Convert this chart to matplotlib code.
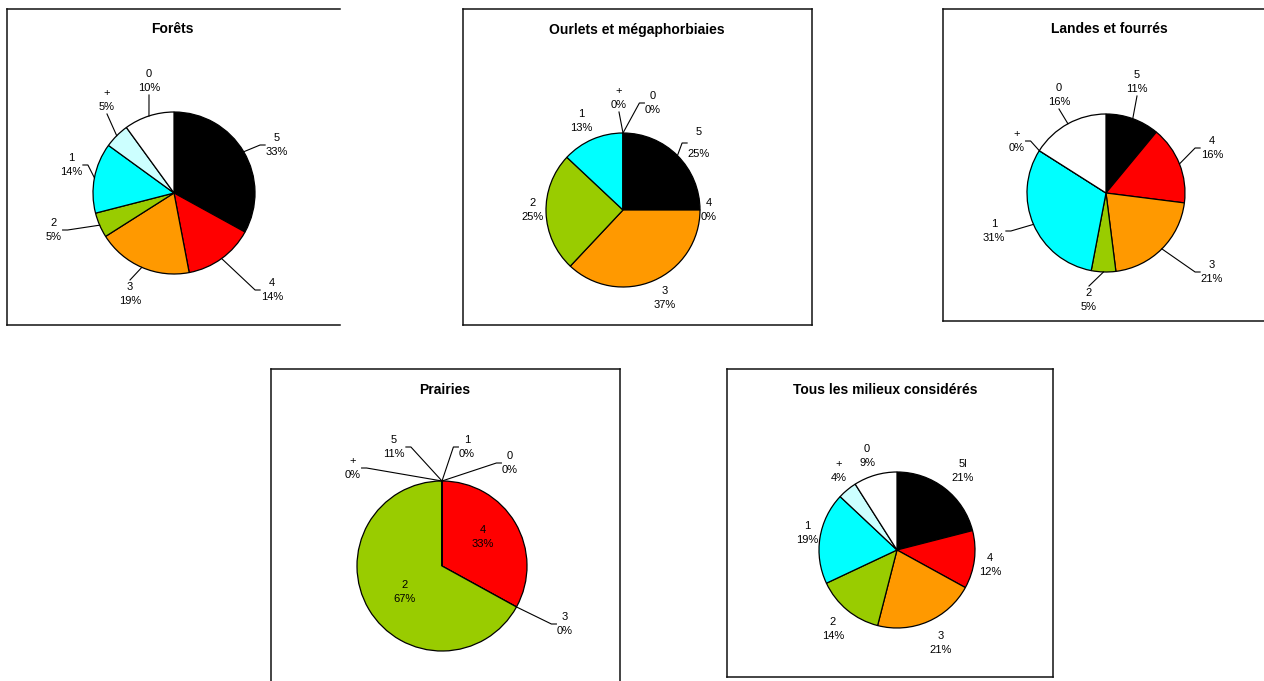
"""Five pie charts: share of each class per habitat type."""

import matplotlib

matplotlib.use("Agg")
import matplotlib.pyplot as plt
import numpy as np

plt.rcParams["font.family"] = ["Liberation Sans", "DejaVu Sans"]

# ---- data -------------------------------------------------------------
categories = ["5", "4", "3", "2", "1", "+", "0"]
class_colors = ["#000000", "#FF0000", "#FF9900", "#99CC00", "#00FFFF", "#CCFFFF", "#FFFFFF"]

titles = ["Forêts", "Ourlets et mégaphorbiaies", "Landes et fourrés", "Prairies",
          "Tous les milieux considérés"]

forets = [33, 14, 19, 5, 14, 5, 10]
ourlets = [25, 0, 37, 25, 13, 0, 0]
landes = [11, 16, 21, 5, 31, 0, 16]
prairies = [0, 33, 0, 67, 0, 0, 0]
tous = [21, 12, 21, 14, 19, 4, 9]

# printed percentages (Prairies shows 11% on a slice drawn with no width)
forets_pct = ["33%", "14%", "19%", "5%", "14%", "5%", "10%"]
ourlets_pct = ["25%", "0%", "37%", "25%", "13%", "0%", "0%"]
landes_pct = ["11%", "16%", "21%", "5%", "31%", "0%", "16%"]
prairies_pct = ["11%", "33%", "0%", "67%", "0%", "0%", "0%"]
tous_pct = ["21%", "12%", "21%", "14%", "19%", "4%", "9%"]
tous_categories = ["5l", "4", "3", "2", "1", "+", "0"]

# ---- layout (pixels, y down) -----------------------------------------
W, H = 1264, 681
panels = [
    dict(values=forets, pct=forets_pct, cats=categories,
         frame=(7, 9, 340, 325), sides="tlb", title_xy=(172, 29),
         center=(174, 193), radius=81,
         offsets=[(103, -48), (98, 97), (-44, 101), (-120, 37), (-103, -28), (-67, -93), (-25, -112)],
         leader=[1, 1, 1, 1, 1, 1, 1]),
    dict(values=ourlets, pct=ourlets_pct, cats=categories,
         frame=(463, 9, 812, 325), sides="tlbr", title_xy=(637, 30),
         center=(623, 210), radius=77,
         offsets=[(76, -67), (86, 0), (42, 88), (-90, 0), (-42, -89), (-4, -112), (30, -107)],
         leader=[1, 0, 0, 0, 0, 1, 1], spacing={0: 2.6}),
    dict(values=landes, pct=landes_pct, cats=categories,
         frame=(943, 9, 1270, 321), sides="tlb", title_xy=(1109, 29),
         center=(1106, 193), radius=79,
         offsets=[(31, -111), (106, -45), (106, 79), (-17, 107), (-112, 38), (-89, -52), (-47, -98)],
         leader=[1, 1, 1, 1, 1, 1, 1]),
    dict(values=prairies, pct=prairies_pct, cats=categories,
         frame=(271, 369, 620, 690), sides="tlr", title_xy=(445, 390),
         center=(442, 566), radius=85,
         offsets=[(-48, -119), (41, -29), (123, 58), (-37, 26), (25, -119), (-89, -98), (68, -103)],
         leader=[1, 0, 1, 0, 1, 1, 1]),
    dict(values=tous, pct=tous_pct, cats=tous_categories,
         frame=(727, 369, 1053, 677), sides="tlbr", title_xy=(885, 390),
         center=(897, 550), radius=78,
         offsets=[(66, -79), (93, 15), (44, 93), (-64, 79), (-90, -17), (-58, -79), (-30, -94)],
         leader=[0, 0, 0, 0, 0, 0, 0]),
]

fig = plt.figure(figsize=(W / 100, H / 100), dpi=100)
ax = fig.add_axes([0, 0, 1, 1])


def fy(y):
    return H - y


for title, p in zip(titles, panels):
    x0, y0, x1, y1 = p["frame"]
    sides = {"t": ([x0, x1], [y0, y0]), "b": ([x0, x1], [y1, y1]),
             "l": ([x0, x0], [y0, y1]), "r": ([x1, x1], [y0, y1])}
    for s in p["sides"]:
        xs, ys = sides[s]
        ax.plot(xs, [fy(v) for v in ys], color="#111111", linewidth=1.1,
                solid_capstyle="projecting")

    ax.text(p["title_xy"][0], fy(p["title_xy"][1]), title, ha="center", va="center",
            fontsize=10, fontweight="bold")

    cx, cy = p["center"]
    r = p["radius"]
    vals = np.array(p["values"], dtype=float)
    ax.pie(vals, colors=class_colors, startangle=90, counterclock=False,
           center=(cx, fy(cy)), radius=r,
           wedgeprops=dict(edgecolor="black", linewidth=0.9))

    total = vals.sum()
    before = np.concatenate([[0], np.cumsum(vals)[:-1]])
    mid = np.radians(90 - 360 * (before + vals / 2) / total)
    spacing = p.get("spacing", {})
    for i, cat in enumerate(p["cats"]):
        dx, dy = p["offsets"][i]
        lx, ly = cx + dx, cy + dy
        ax.text(lx, fy(ly), f"{cat}\n{p['pct'][i]}", ha="center", va="center",
                fontsize=8, linespacing=spacing.get(i, 1.45))
        if not p["leader"][i]:
            continue
        ex, ey = cx + r * np.cos(mid[i]), cy - r * np.sin(mid[i])
        hw = 3.3 * len(p["pct"][i]) + 2
        hh = 14
        vx, vy = ex - lx, ey - ly
        if abs(vx) / hw > abs(vy) / hh:
            s = np.sign(vx)
            xs = [ex, lx + s * (hw + 5), lx + s * hw]
            ys = [ey, ly, ly]
        else:
            s = np.sign(vy)
            xs = [ex, lx]
            ys = [ey, ly + s * hh]
        ax.plot(xs, [fy(v) for v in ys], color="black", linewidth=0.8)

ax.set_xlim(0, W)
ax.set_ylim(0, H)
ax.set_aspect("equal")
ax.axis("off")

fig.savefig("out.png", dpi=100, facecolor="white")
